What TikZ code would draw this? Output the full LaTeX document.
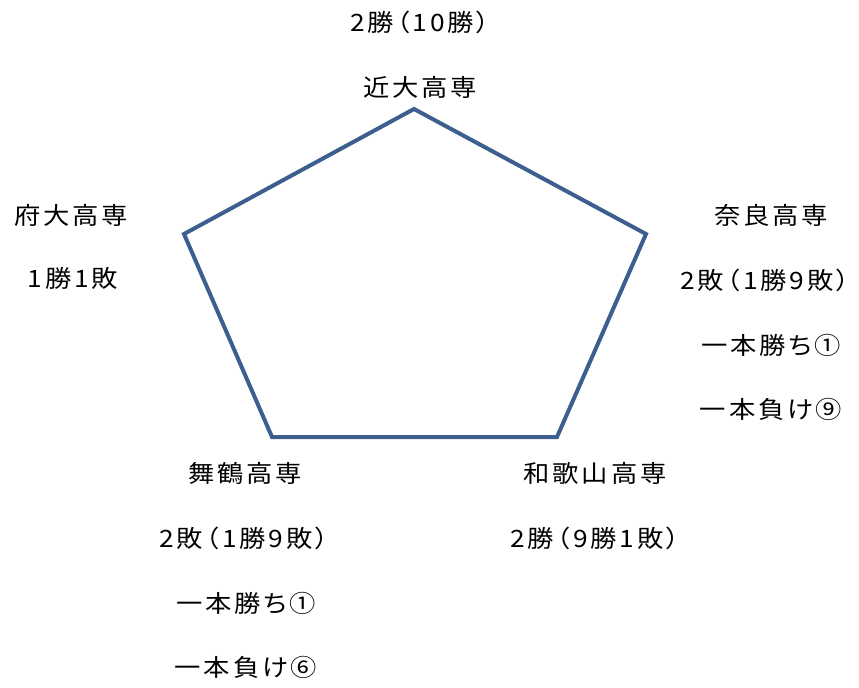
\documentclass[tikz,border=0pt]{standalone}
\usepackage{fontspec}
\newfontfamily\jp[LetterSpace=12,FakeStretch=1.1,RawFeature=+palt]{Noto Sans CJK JP}
\definecolor{pent}{HTML}{3D5F8D}
\begin{document}
\begin{tikzpicture}[x=1bp,y=-1bp,
  lab/.style={font=\jp\fontsize{24}{28}\selectfont, inner sep=0pt, text=black}]
\useasboundingbox (0,0) rectangle (859,688);
\coordinate (t) at (414,109);
\coordinate (r) at (646,234);
\coordinate (br) at (557,437);
\coordinate (bl) at (272,437);
\coordinate (l) at (184,234);
\draw[pent, line width=4bp, line join=miter] (t) -- (r) -- (br) -- (bl) -- (l) -- cycle;
\node[lab] (k1) at (420,22) {2勝（10勝）};
\node[lab] (k2) at (420,87) {近大高専};
\node[lab] (f1) at (71,215) {府大高専};
\node[lab] (f2) at (73,278) {1勝1敗};
\node[lab] (n1) at (771,215) {奈良高専};
\node[lab] (n2) at (765,280) {2敗（1勝9敗）};
\node[lab] (n3) at (771,345) {一本勝ち①};
\node[lab] (n4) at (771,409) {一本負け⑨};
\node[lab] (m1) at (245,473) {舞鶴高専};
\node[lab] (m2) at (244,538) {2敗（1勝9敗）};
\node[lab] (m3) at (246,603) {一本勝ち①};
\node[lab] (m4) at (246,667) {一本負け⑥};
\node[lab] (w1) at (595,473) {和歌山高専};
\node[lab] (w2) at (595,538) {2勝（9勝1敗）};
\end{tikzpicture}
\end{document}
